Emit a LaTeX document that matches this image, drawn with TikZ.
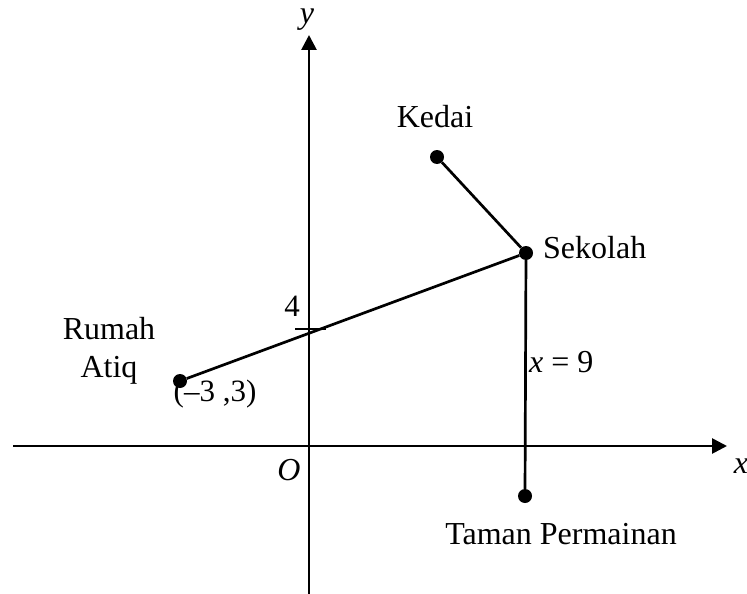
\documentclass[tikz,border=0pt]{standalone}
\usepackage{fontspec}
\setmainfont{Liberation Serif}
\usetikzlibrary{arrows.meta}
\begin{document}
\begin{tikzpicture}[x=1pt,y=-1pt,
  axis/.style={line width=2.7pt,-{Triangle[length=15pt,width=15pt]}},
  seg/.style={line width=2.7pt},
  dot/.style={circle,fill=black,inner sep=0pt,minimum size=14pt},
  lbl/.style={font=\fontsize{32}{37}\selectfont,inner sep=0pt},
  num/.style={font=\fontsize{31}{36}\selectfont,inner sep=0pt}]
\useasboundingbox (0,0) rectangle (747,594);
% axes
\coordinate (xs) at (13,446);
\coordinate (xe) at (727,446);
\coordinate (ys) at (309,594);
\coordinate (ye) at (309,35);
\draw[axis] (xs) -- (xe);
\draw[axis] (ys) -- (ye);
\node[lbl] (ylab) at (307,20) {\textit{y}};
\node[lbl] (xlab) at (741,466) {\textit{x}};
\node[lbl] (olab) at (289,470) {\textit{O}};
% tick at 4
\coordinate (t1) at (295,329);
\coordinate (t2) at (326,329);
\draw[seg] (t1) -- (t2);
\node[num] (four) at (292,306) {4};
% points
\node[dot] (rumah) at (180,381) {};
\node[dot] (kedai) at (437,157) {};
\node[dot] (sekolah) at (526,253) {};
\node[dot] (taman) at (525,496) {};
% connectors
\draw[seg] (rumah) -- (sekolah);
\draw[seg] (kedai) -- (sekolah);
\draw[seg] (sekolah) -- (taman);
% labels
\node[lbl,align=center] (rumahlab) at (109,351) {Rumah\\[1pt]Atiq};
\node[num] (coord) at (215,394) {(–3 ,3)};
\node[lbl] (kedailab) at (435,117) {Kedai};
\node[lbl,anchor=west] (sekolahlab) at (543,248) {Sekolah};
\node[lbl,anchor=west] (xeq) at (529,362) {\textit{x} = 9};
\node[lbl] (tamanlab) at (561,534) {Taman Permainan};
\end{tikzpicture}
\end{document}
